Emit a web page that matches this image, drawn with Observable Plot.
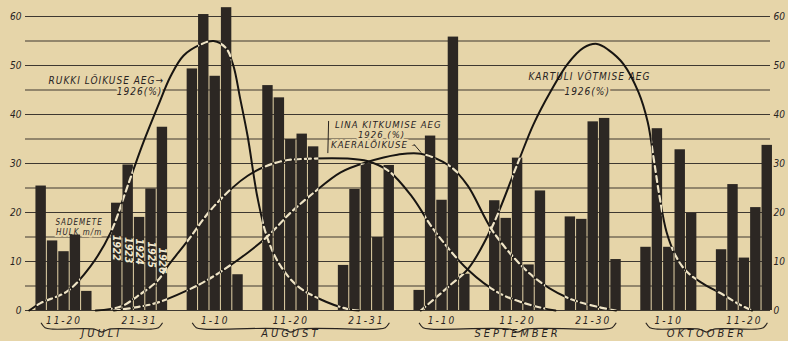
<!DOCTYPE html>
<html><head><meta charset="utf-8">
<script src="https://cdn.jsdelivr.net/npm/d3@7"></script>
<script src="https://cdn.jsdelivr.net/npm/@observablehq/plot@0.6"></script>
<style>html,body{margin:0;padding:0;background:#e6d5a9;} svg{display:block;}</style>
</head><body><div id="chart"></div>
<script>
// ten-day periods (x categories)
const periods = ["11-20","21-31","1-10","11-20","21-31","1-10","11-20","21-30","1-10","11-20"];
const months = ["JUULI","AUGUST","SEPTEMBER","OKTOOBER"];
const monthFirst = [0,2,5,8];
const monthLast = [1,4,7,9];
const years = ["1922","1923","1924","1925","1926"];
// precipitation (mm) per period, one array per year
const rain1922 = [25.4,21.9,49.3,45.9,9.2,4.1,22.4,19.1,12.9,12.4];
const rain1923 = [14.2,29.7,60.4,43.4,24.7,35.6,18.8,18.6,37.1,25.7];
const rain1924 = [12.0,19.0,47.8,34.9,29.9,22.5,31.1,38.5,12.9,10.7];
const rain1925 = [15.4,24.8,61.8,36.0,14.9,55.8,9.3,39.2,32.8,21.0];
const rain1926 = [3.9,37.4,7.3,33.4,29.6,7.4,24.4,10.4,19.8,33.7];
// harvest-time curves 1926 (%) : [period position, percent]
const rukki = [[-0.46,0],[-0.31,1.5],[0.05,4.0],[0.35,9.0],[0.62,16.0],[0.81,24.0],[0.92,28.8],[1.05,34.3],[1.24,41.6],[1.41,47.8],[1.58,52.0],[1.81,54.3],[1.98,55.0],[2.14,53.6],[2.24,50.0],[2.33,43.3],[2.43,35.5],[2.56,23.0],[2.69,14.8],[2.86,9.2],[3.09,5.0],[3.39,2.3],[3.75,0.3],[3.9,0]];
const lina = [[0.42,0],[0.75,0.8],[0.97,2.9],[1.24,6.1],[1.37,9.0],[1.63,14.1],[1.98,21.2],[2.43,27.5],[2.86,30.4],[3.3,31.0],[3.75,31.0],[4.01,30.5],[4.3,28.4],[4.6,23.3],[4.9,16.3],[5.35,8.2],[5.75,3.6],[6.2,1.0],[6.5,0]];
const kaera = [[0.66,0],[1.19,1.4],[1.63,4.1],[1.98,7.0],[2.43,11.8],[2.69,15.1],[3.0,20.0],[3.3,24.0],[3.66,28.2],[4.01,30.3],[4.41,31.8],[4.72,32.0],[5.11,29.4],[5.34,25.5],[5.68,16.0],[6.2,7.0],[6.66,2.6],[7.1,0.6],[7.3,0]];
const kartuli = [[4.72,0],[5.11,5.2],[5.35,8.6],[5.66,17.0],[6.0,30.0],[6.21,38.0],[6.44,44.8],[6.66,50.3],[6.87,53.6],[7.05,54.4],[7.2,53.2],[7.4,50.3],[7.6,44.5],[7.72,38.5],[7.8,31.0],[7.88,23.0],[7.97,16.0],[8.08,11.5],[8.22,8.2],[8.42,5.8],[8.72,3.2],[8.95,1.1],[9.1,0]];
// y ticks
const gridTicks = d3.range(0, 61, 5);
const labelTicks = [0,10,20,30,40,50,60];

const series = [rain1922, rain1923, rain1924, rain1925, rain1926];
const bars = [];
periods.forEach((p, g) => series.forEach((s, j) => bars.push({g, j, year: years[j], v: s[g], c: g + (j - 2) * 0.151})));
const curves = [["rukki", rukki], ["lina", lina], ["kaera", kaera], ["kartuli", kartuli]]
  .flatMap(([name, pts]) => pts.map(([x, y]) => ({name, x, y})));
const yearLabels = bars.filter(d => d.g === 1).map((d, k) => ({...d, ly: [12.8, 12.3, 12.0, 11.4, 10.2][k]}));
const braces = months.flatMap((m, k) => {
  const x0 = monthFirst[k] - 0.3, x1 = monthLast[k] + 0.3, mid = (x0 + x1) / 2;
  return [[x0,-2.6],[x0+0.05,-3.5],[x0+0.15,-3.8],[mid-0.1,-3.8],[mid,-4.4],[mid+0.1,-3.8],[x1-0.15,-3.8],[x1-0.05,-3.5],[x1,-2.6]]
    .map(([x, y]) => ({m, x, y}));
});
const notes = [
  {t: "RUKKI LÕIKUSE AEG→", x: 0.56, y: 46.9, s: 10},
  {t: "1926(%)", x: 1.0, y: 44.6, s: 10},
  {t: "SADEMETE", x: 0.2, y: 17.9, s: 8},
  {t: "HULK m/m", x: 0.2, y: 16.0, s: 8},
  {t: "LINA KITKUMISE AEG", x: 4.29, y: 37.9, s: 9.5},
  {t: "1926 (%)", x: 4.2, y: 35.9, s: 9.5},
  {t: "KAERALÕIKUSE –", x: 4.1, y: 33.8, s: 9.5},
  {t: "KARTULI VÕTMISE AEG", x: 6.95, y: 47.6, s: 10},
  {t: "1926(%)", x: 6.92, y: 44.7, s: 10}
];
const arrows = [
  {x1: 3.5, y1: 38.6, x2: 3.49, y2: 32.2, bend: 0},
  {x1: 4.63, y1: 33.9, x2: 4.72, y2: 32.3, bend: 40}
];

const bg = "#e6d5a9", ink = "#28231f", barFill = "#2c2723";
const font = "DejaVu Sans Condensed, DejaVu Sans, sans-serif";

const chart = Plot.plot({
  width: 788, height: 341,
  marginLeft: 25, marginRight: 18, marginTop: 16, marginBottom: 31,
  style: {background: bg, overflow: "visible", fontFamily: font},
  x: {domain: [-0.509, 9.345], axis: null},
  y: {domain: [0, 60], axis: null},
  marks: [
    Plot.ruleY(gridTicks, {stroke: "#3e3830", strokeWidth: 1.2}),
    Plot.text(labelTicks, {y: d => d, frameAnchor: "left", textAnchor: "end", dx: -4, text: d => String(d), fontSize: 10, fontStyle: "italic", fill: ink}),
    Plot.text(labelTicks, {y: d => d, frameAnchor: "right", textAnchor: "start", dx: 3, text: d => String(d), fontSize: 10, fontStyle: "italic", fill: ink}),
    Plot.text(notes, {x: "x", y: "y", text: "t", fontSize: d => d.s, fontStyle: "italic", fill: ink, stroke: bg, strokeWidth: 4, paintOrder: "stroke", ariaDescription: "notes"}),
    Plot.rect(bars, {x1: d => d.c - 0.0755, x2: d => d.c + 0.0755, y1: () => 0, y2: "v", fill: barFill, insetLeft: 0.5, insetRight: 0.5, ariaDescription: "bars"}),
    Plot.line(curves, {x: "x", y: "y", z: "name", stroke: "#181512", strokeWidth: 2, curve: "catmull-rom"}),
    Plot.line(curves, {x: "x", y: "y", z: "name", stroke: "#efe4c6", strokeWidth: 2.2, strokeDasharray: "6,4", curve: "catmull-rom", ariaDescription: "overlay"}),
    Plot.text(yearLabels, {x: "c", y: "ly", text: "year", rotate: 90, fill: "#f1e8cf", fontSize: 10.5, fontWeight: "bold", fontStyle: "italic"}),
    Plot.arrow(arrows, {x1: "x1", y1: "y1", x2: "x2", y2: "y2", bend: "bend", stroke: ink, strokeWidth: 1, headLength: 5}),
    Plot.text(periods, {x: (d, i) => i, frameAnchor: "bottom", dy: 13, text: d => d, fontSize: 10, fontStyle: "italic", fill: ink, ariaDescription: "periods"}),
    Plot.line(braces, {x: "x", y: "y", z: "m", stroke: ink, strokeWidth: 1.2, curve: "catmull-rom"}),
    Plot.text(months, {x: (d, i) => (monthFirst[i] + monthLast[i]) / 2, frameAnchor: "bottom", dy: 26, text: d => d, fontSize: 11, fontStyle: "italic", fill: ink, ariaDescription: "months"})
  ]
});

// clip the light dashed copy of the curves to the bars
(function () {
  const ns = "http://www.w3.org/2000/svg";
  const svg = chart;
  const spacing = {notes: 1, periods: 2, months: 3};
  Object.entries(spacing).forEach(([k, v]) => {
    const g = svg.querySelector(`g[aria-description="${k}"]`);
    if (g) g.setAttribute("letter-spacing", v);
  });
  let barG = svg.querySelector('g[aria-description="bars"]') || svg.querySelector('g[aria-label="rect"]');
  const lines = svg.querySelectorAll('g[aria-label="line"]');
  let ov = svg.querySelector('g[aria-description="overlay"]') || lines[1];
  if (!barG || !ov) return;
  const defs = document.createElementNS(ns, "defs");
  const cp = document.createElementNS(ns, "clipPath");
  cp.setAttribute("id", "barclip");
  const gT = barG.getAttribute("transform");
  barG.querySelectorAll("rect").forEach(r => {
    const c = r.cloneNode(false);
    const t = [gT, r.getAttribute("transform")].filter(Boolean).join(" ");
    if (t) c.setAttribute("transform", t);
    cp.appendChild(c);
  });
  defs.appendChild(cp);
  svg.insertBefore(defs, svg.firstChild);
  const wrap = document.createElementNS(ns, "g");
  ov.parentNode.insertBefore(wrap, ov);
  wrap.appendChild(ov);
  wrap.setAttribute("clip-path", "url(#barclip)");
})();
document.getElementById("chart").appendChild(chart);
</script></body></html>
